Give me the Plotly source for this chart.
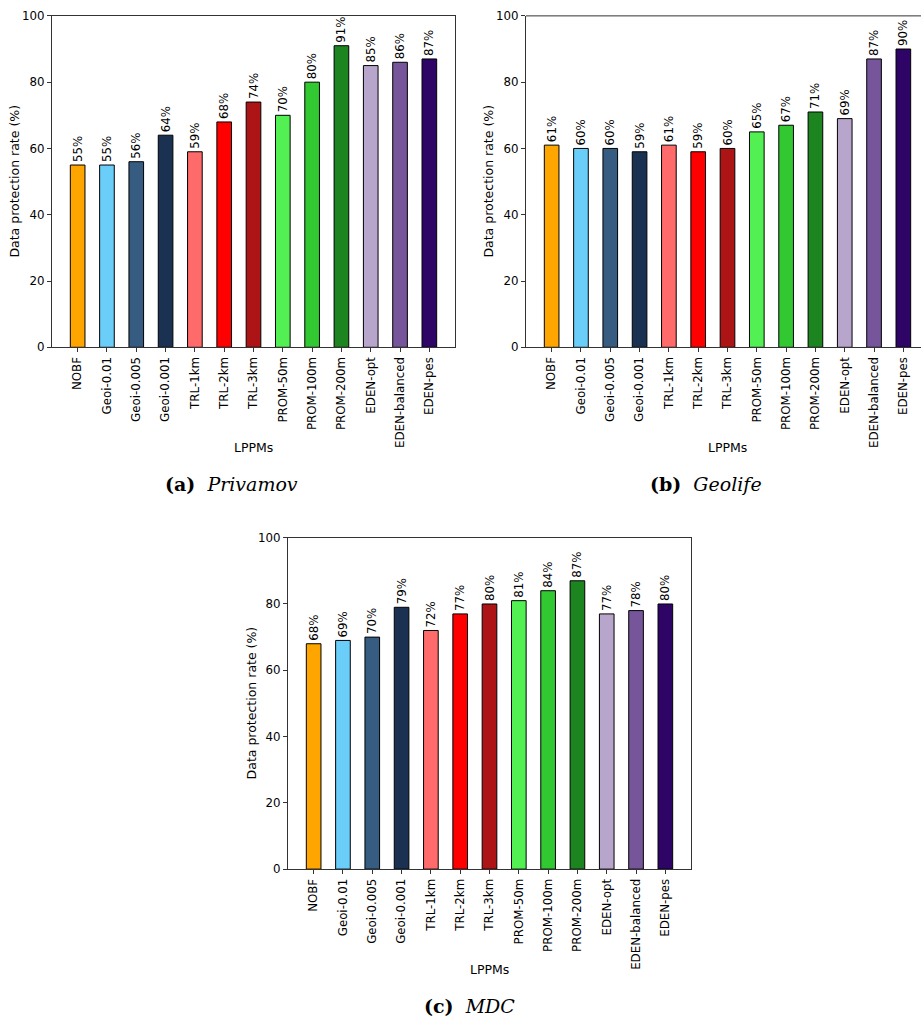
import plotly.graph_objects as go

categories = ["NOBF", "Geoi-0.01", "Geoi-0.005", "Geoi-0.001", "TRL-1km", "TRL-2km",
              "TRL-3km", "PROM-50m", "PROM-100m", "PROM-200m", "EDEN-opt",
              "EDEN-balanced", "EDEN-pes"]
privamov = [55, 55, 56, 64, 59, 68, 74, 70, 80, 91, 85, 86, 87]
geolife = [61, 60, 60, 59, 61, 59, 60, 65, 67, 71, 69, 87, 90]
mdc = [68, 69, 70, 79, 72, 77, 80, 81, 84, 87, 77, 78, 80]
bar_colors = ["#FFA500", "#6BCEF8", "#365C81", "#1A3152", "#FF6B6B", "#FF0000",
              "#AD1416", "#53F053", "#32C832", "#1C8520", "#B8A5CC", "#76559A", "#2E0467"]
y_ticks = [0, 20, 40, 60, 80, 100]
captions = ["<b>(a)</b>&nbsp;&nbsp;<i>Privamov</i>",
            "<b>(b)</b>&nbsp;&nbsp;<i>Geolife</i>",
            "<b>(c)</b>&nbsp;&nbsp;<i>MDC</i>"]

W, H = 921, 1030
FONT = "DejaVu Sans"
AX = "#333333"
FS_TICK = 11.8
FS_BAR = 11.8
FS_TITLE = 12.5

# pixel boxes (left, right, top, bottom)
boxes = [(52, 455, 9, 345), (526, 921, 9, 345), (288, 691, 538, 874)]
px_per_unit = 403 / 13.75

fig = go.Figure()
datasets = [privamov, geolife, mdc]
for i, (vals, box) in enumerate(zip(datasets, boxes)):
    n = "" if i == 0 else str(i + 1)
    l, r, t, b = box
    fig.add_trace(go.Bar(
        x=list(range(len(categories))), y=vals,
        marker=dict(color=bar_colors, line=dict(color="black", width=1)),
        width=0.5,
        text=[f"{v}%" for v in vals], textposition="outside", textangle=-90,
        constraintext="none", cliponaxis=False,
        textfont=dict(family=FONT, size=FS_BAR, color="black"),
        xaxis="x" + n, yaxis="y" + n, showlegend=False, hoverinfo="skip"))
    xmax = -0.875 + (r - l) / px_per_unit
    mirror = i != 1
    fig.update_layout(**{
        "xaxis" + n: dict(domain=[l / W, r / W], range=[-0.875, xmax], anchor="y" + n,
                          tickmode="array", tickvals=list(range(len(categories))),
                          ticktext=categories, tickangle=-90, ticks="outside", ticklen=4,
                          tickcolor=AX, showline=True, linecolor=AX, linewidth=1,
                          mirror=mirror, showgrid=False, zeroline=False,
                          tickfont=dict(family=FONT, size=FS_TICK, color="black")),
        "yaxis" + n: dict(domain=[1 - b / H, 1 - t / H], range=[0, 100], anchor="x" + n,
                          tickvals=y_ticks, ticks="outside", ticklen=4, tickcolor=AX,
                          showline=True, linecolor=AX, linewidth=1, mirror=mirror,
                          showgrid=False, zeroline=False,
                          tickfont=dict(family=FONT, size=FS_TICK, color="black")),
    })
    if not mirror:
        fig.add_shape(type="line", xref="x" + n + " domain", yref="y" + n + " domain",
                      x0=0, x1=1, y0=1, y1=1, line=dict(color=AX, width=1))
    # y title
    fig.add_annotation(text="Data protection rate (%)", textangle=-90, xref="paper", yref="paper",
                       x=(l - 37) / W, y=1 - (t + b) / 2 / H, showarrow=False,
                       xanchor="center", yanchor="middle",
                       font=dict(family=FONT, size=FS_TITLE, color="black"))
    cx = l + (403) / 2
    fig.add_annotation(text="LPPMs", xref="paper", yref="paper",
                       x=cx / W, y=1 - (b + 102) / H, showarrow=False,
                       xanchor="center", yanchor="middle",
                       font=dict(family=FONT, size=FS_TITLE, color="black"))
    cap_cx = [231, 706, 469][i]
    fig.add_annotation(text=captions[i], xref="paper", yref="paper",
                       x=cap_cx / W, y=1 - (b + 139) / H, showarrow=False,
                       xanchor="center", yanchor="middle",
                       font=dict(family="DejaVu Serif", size=19, color="black"))

fig.update_layout(width=W, height=H, margin=dict(l=0, r=0, t=0, b=0),
                  paper_bgcolor="white", plot_bgcolor="white", bargap=0.5)
fig.write_html("out.html", config={"displayModeBar": False},
               post_script="document.body.style.margin='0';document.body.style.overflow='hidden';")
